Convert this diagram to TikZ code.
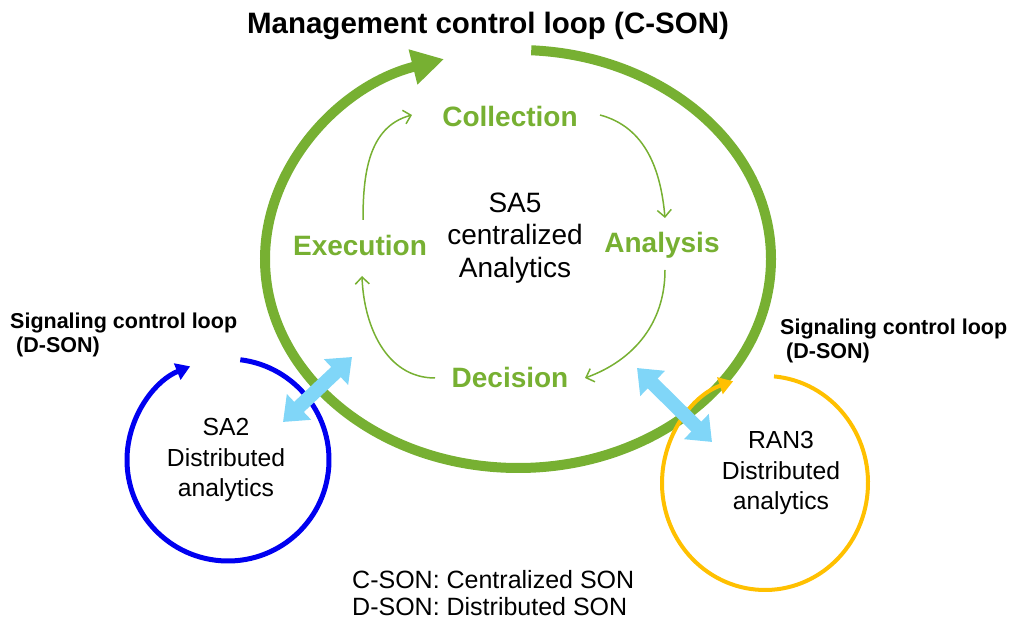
\documentclass[tikz,border=0pt]{standalone}
\usepackage{fontspec}
\setmainfont{Liberation Sans}
\usetikzlibrary{arrows.meta}
\definecolor{cgreen}{RGB}{119,176,50}
\definecolor{cblue}{RGB}{0,0,240}
\definecolor{corange}{RGB}{255,192,0}
\definecolor{clblue}{RGB}{128,214,248}
\tikzset{
  lbl/.style={inner sep=0pt, align=center},
  stage/.style={lbl, text=cgreen, font=\fontsize{28}{32}\selectfont\bfseries},
  sigtxt/.style={lbl, align=left, anchor=north west, font=\fontsize{21.5}{23.5}\selectfont\bfseries},
  cyc/.style={cgreen, line width=1.5pt, -{Straight Barb[length=7pt,width=14pt]}},
  dbl/.style={clblue, line width=14pt, {Triangle[length=22pt,width=34pt]}-{Triangle[length=22pt,width=34pt]}},
}
\begin{document}
\begin{tikzpicture}[x=1pt,y=1pt]
\useasboundingbox (0,0) rectangle (1012,623);
% big green loop
\draw[cgreen, line width=10pt, -{Triangle[length=32pt,width=34pt]}]
  (518,364) ++(87:253 and 209) arc[start angle=87, end angle=-253, x radius=253, y radius=209];
% blue loop
\draw[cblue, line width=5pt, -{Triangle[length=14pt,width=17pt]}]
  (228,163) ++(83:101 and 101) arc[start angle=83, end angle=-248, x radius=101, y radius=101];
% orange loop
\draw[corange, line width=4pt, -{Triangle[length=14pt,width=17pt]}]
  (765,140) ++(85:103 and 107) arc[start angle=85, end angle=-252, x radius=103, y radius=107];
% labels
\node[lbl, font=\fontsize{29.5}{32}\selectfont\bfseries] (title) at (488,597) {Management control loop (C-SON)};
\node[stage] (coll) at (510,506) {Collection};
\node[stage] (anal) at (662,378) {Analysis};
\node[stage] (deci) at (510,246) {Decision};
\node[stage] (exec) at (360,378) {Execution};
\node[lbl, font=\fontsize{28}{32.5}\selectfont] (sa5) at (515,385) {SA5\\centralized\\Analytics};
\node[sigtxt] (lsig) at (10,310) {Signaling control loop\\\ (D-SON)};
\node[sigtxt] (rsig) at (780,304) {Signaling control loop\\\ (D-SON)};
\node[lbl, font=\fontsize{24.7}{30.5}\selectfont] (sa2) at (226,163) {SA2\\Distributed\\analytics};
\node[lbl, font=\fontsize{24.7}{30.5}\selectfont] (ran3) at (781,150) {RAN3\\Distributed\\analytics};
\node[lbl, align=left, anchor=west, font=\fontsize{25}{27}\selectfont] (legend) at (352,29.5) {C-SON: Centralized SON\\D-SON: Distributed SON};
% inner cycle arrows
\coordinate (e1) at (363,403); \coordinate (c0) at (412,508);
\coordinate (c1) at (600,508); \coordinate (a0) at (665,405);
\coordinate (a1) at (665,353); \coordinate (d0) at (585,245);
\coordinate (d1) at (435,245); \coordinate (x0) at (362,347);
\draw[cyc] (e1) to[out=90,in=195] (c0);
\draw[cyc] (c1) to[out=-15,in=95] (a0);
\draw[cyc] (a1) to[out=-90,in=20] (d0);
\draw[cyc] (d1) to[out=180,in=-88] (x0);
% light blue double arrows
\coordinate (l0) at (283,201); \coordinate (l1) at (352,266);
\coordinate (r0) at (637,255); \coordinate (r1) at (712,181);
\draw[dbl] (l0) -- (l1);
\draw[dbl] (r0) -- (r1);
\end{tikzpicture}
\end{document}
